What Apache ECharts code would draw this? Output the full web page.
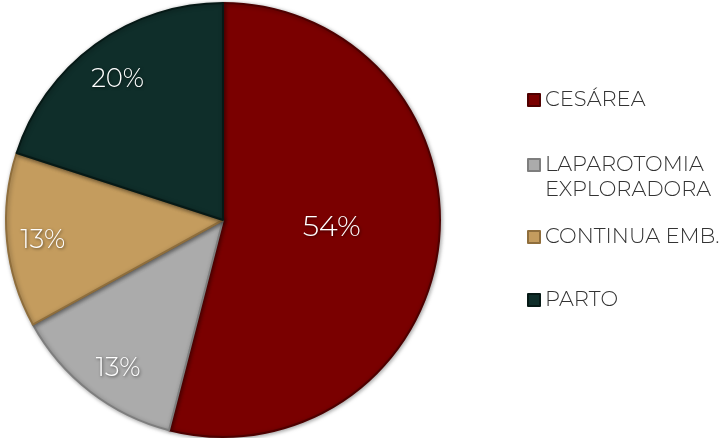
<!DOCTYPE html>
<html><head><meta charset="utf-8">
<script src="https://cdn.jsdelivr.net/npm/echarts@6/dist/echarts.min.js"></script>
<style>html,body{margin:0;padding:0;background:#fff}#c{width:722px;height:438px}</style>
</head><body><div id="c"></div>
<script>
const categories = ['CESÁREA', 'LAPAROTOMIA EXPLORADORA', 'CONTINUA EMB.', 'PARTO'];
const legendLabels = ['CESÁREA', '\nLAPAROTOMIA\nEXPLORADORA', 'CONTINUA EMB.', 'PARTO'];
const values = [54, 13, 13, 20];
const colors = ['#7A0000', '#ABABAB', '#C49C5E', '#0F2E2A'];
const borders = ['#4E0000', '#7E7E7E', '#8F6E3C', '#061916'];
const legendCenters = [100, 165, 237, 300];
const labelNudges = [[-2, -7], [6, 5], [0, 3], [1, 6]];

const chart = echarts.init(document.getElementById('c'));
const font = 'Montserrat, "Open Sans", sans-serif';
const labelStyle = {
  color: '#fff', fontFamily: font, fontWeight: 300,
  textShadowColor: 'rgba(0,0,0,0.55)', textShadowBlur: 3, textShadowOffsetX: 1, textShadowOffsetY: 1
};
const mainData = categories.map((n, i) => ({
  name: n, value: values[i],
  itemStyle: { color: colors[i], borderColor: borders[i], borderWidth: 2 },
  label: { show: i === 0 }
}));
const outerData = categories.map((n, i) => ({
  name: n, value: values[i],
  label: { show: i !== 0 }
}));
const LH = 25;
const legends = categories.map((n, i) => {
  const lines = legendLabels[i].split('\n').length;
  return {
    data: [n], orient: 'vertical', left: 527, top: legendCenters[i] - lines * LH / 2,
    padding: 0, itemGap: 0,
    itemWidth: 12, itemHeight: 12, icon: 'rect', selectedMode: false,
    formatter: () => legendLabels[i],
    textStyle: { fontFamily: font, fontSize: 21, fontWeight: 300, color: '#333', lineHeight: LH }
  };
});
const nudge = (p) => ({ dx: labelNudges[p.dataIndex][0], dy: labelNudges[p.dataIndex][1] });
chart.setOption({
  animation: false,
  legend: legends,
  series: [
    {
      type: 'pie', center: [223, 220], radius: [0, 217], startAngle: 90, clockwise: true,
      data: mainData,
      label: Object.assign({ position: 'inside', formatter: '{d}%', fontSize: 29 }, labelStyle),
      labelLine: { show: false },
      labelLayout: nudge,
      itemStyle: { shadowColor: 'rgba(0,0,0,0.35)', shadowBlur: 4, shadowOffsetX: 1, shadowOffsetY: 1 },
      emphasis: { disabled: true }
    },
    {
      type: 'pie', center: [223, 220], radius: [139, 217], startAngle: 90, clockwise: true,
      data: outerData, silent: true,
      itemStyle: { color: 'rgba(0,0,0,0)' },
      label: Object.assign({ position: 'inside', formatter: '{d}%', fontSize: 26 }, labelStyle),
      labelLine: { show: false },
      labelLayout: nudge,
      emphasis: { disabled: true }
    }
  ]
});
</script></body></html>
